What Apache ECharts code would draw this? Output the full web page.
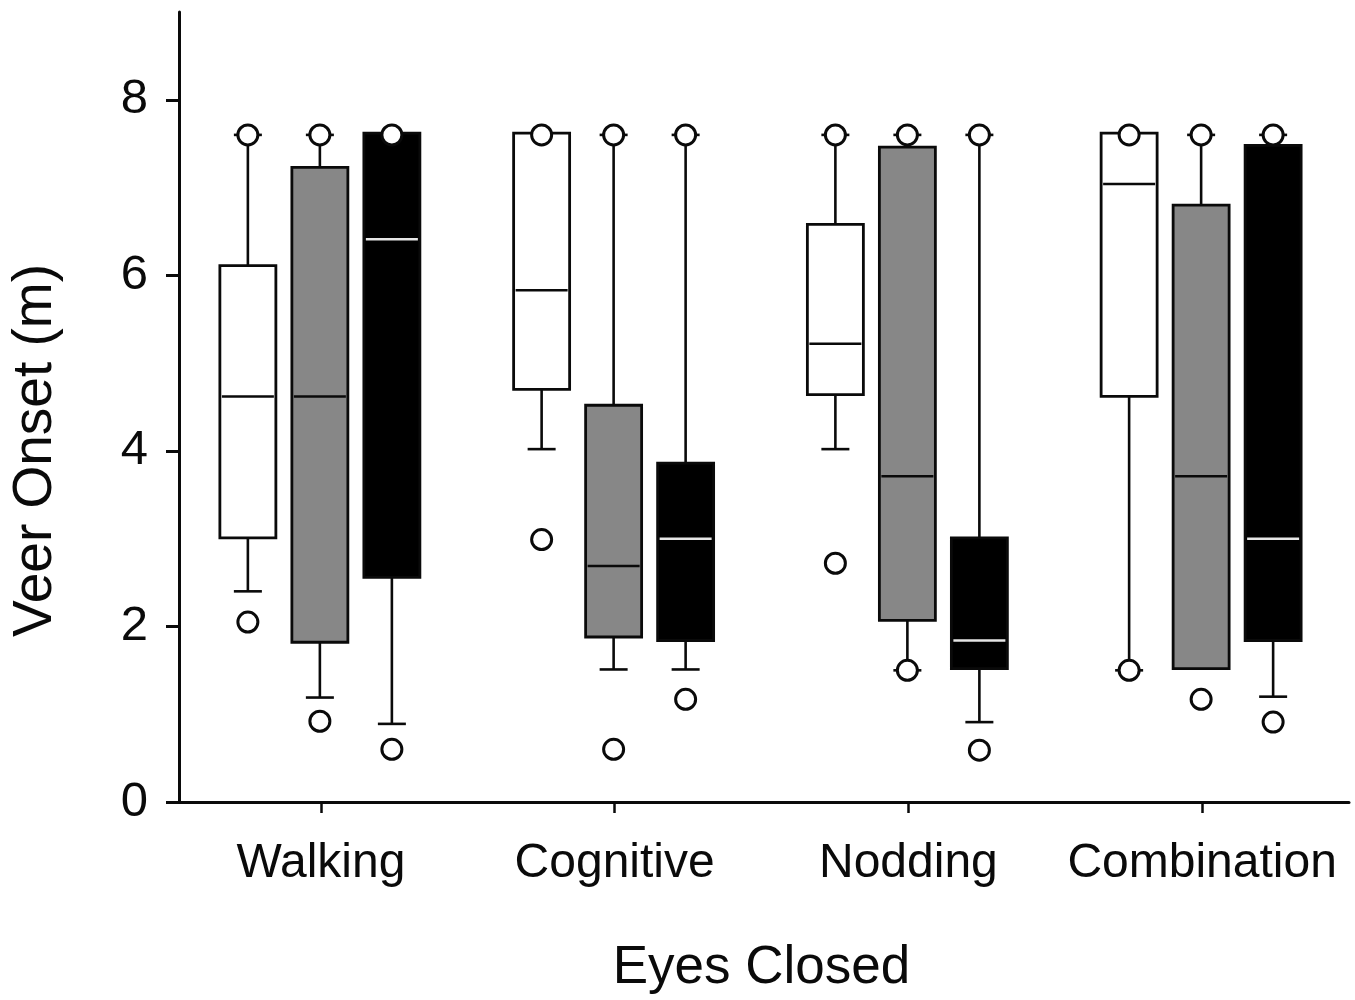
<!DOCTYPE html>
<html>
<head>
<meta charset="utf-8">
<script src="https://cdn.jsdelivr.net/npm/echarts@6/dist/echarts.min.js"></script>
<style>
html,body{margin:0;padding:0;background:#fff;}
#chart{width:1355px;height:1000px;}
</style>
</head>
<body>
<div id="chart"></div>
<script>
// ---- data ----
const categories = ['Walking', 'Cognitive', 'Nodding', 'Combination'];
const yTickValues = [0, 2, 4, 6, 8];

// each row: [categoryIndex, lowWhisker, Q1, median, Q3, highWhisker]
const whiteBoxes = [
  [0, 2.40, 3.01, 4.62, 6.11, 7.60],
  [1, 4.02, 4.70, 5.83, 7.62, 7.62],
  [2, 4.02, 4.64, 5.22, 6.58, 7.60],
  [3, 1.50, 4.62, 7.04, 7.62, 7.62]
];
const grayBoxes = [
  [0, 1.19, 1.82, 4.62, 7.23, 7.60],
  [1, 1.51, 1.88, 2.69, 4.52, 7.60],
  [2, 1.50, 2.07, 3.71, 7.46, 7.60],
  [3, 1.52, 1.52, 3.71, 6.80, 7.60]
];
const blackBoxes = [
  [0, 0.89, 2.56, 6.41, 7.62, 7.62],
  [1, 1.51, 1.84, 3.00, 3.86, 7.60],
  [2, 0.91, 1.52, 1.84, 3.01, 7.60],
  [3, 1.20, 1.84, 3.00, 7.48, 7.60]
];

// outliers: [categoryIndex, value]
const whiteOutliers = [
  [0, 7.6], [0, 2.05],
  [1, 7.6], [1, 2.99],
  [2, 7.6], [2, 2.72],
  [3, 7.6], [3, 1.50]
];
const grayOutliers = [
  [0, 7.6], [0, 0.92],
  [1, 7.6], [1, 0.60],
  [2, 7.6], [2, 1.50],
  [3, 7.6], [3, 1.17]
];
const blackOutliers = [
  [0, 7.6], [0, 0.60],
  [1, 7.6], [1, 1.17],
  [2, 7.6], [2, 0.59],
  [3, 7.6], [3, 0.91]
];

// ---- styling / layout constants ----
const FONT = "'Liberation Sans', Arial, Helvetica, sans-serif";
const INK = '#0a0a0a';
const BOX_W = 56;
const CAP_W = 28;
const OFFSETS = [-73, -1, 71];

function boxRenderer(offset, fill, medianColor) {
  return function (params, api) {
    const ci = api.value(0);
    const cx = api.coord([ci, 0])[0] + offset;
    const yy = function (i) { return api.coord([ci, api.value(i)])[1]; };
    const yl = yy(1), yq1 = yy(2), ym = yy(3), yq3 = yy(4), yh = yy(5);
    const hw = BOX_W / 2, cw = CAP_W / 2;
    const ls = { stroke: INK, lineWidth: 2.6 };
    const children = [];
    if (yh < yq3 - 1) {
      children.push({ type: 'line', shape: { x1: cx, y1: yq3, x2: cx, y2: yh }, style: ls });
      children.push({ type: 'line', shape: { x1: cx - cw, y1: yh, x2: cx + cw, y2: yh }, style: ls });
    }
    if (yl > yq1 + 1) {
      children.push({ type: 'line', shape: { x1: cx, y1: yq1, x2: cx, y2: yl }, style: ls });
      children.push({ type: 'line', shape: { x1: cx - cw, y1: yl, x2: cx + cw, y2: yl }, style: ls });
    }
    children.push({
      type: 'rect',
      shape: { x: cx - hw, y: yq3, width: BOX_W, height: yq1 - yq3 },
      style: { fill: fill, stroke: INK, lineWidth: 2.8 }
    });
    children.push({
      type: 'line',
      shape: { x1: cx - hw + 2, y1: ym, x2: cx + hw - 2, y2: ym },
      style: { stroke: medianColor, lineWidth: 2.5 }
    });
    return { type: 'group', children: children };
  };
}

function boxSeries(name, data, offset, fill, medianColor) {
  return {
    name: name,
    type: 'custom',
    data: data,
    encode: { x: 0, y: [1, 2, 3, 4, 5] },
    renderItem: boxRenderer(offset, fill, medianColor),
    z: 2,
    silent: true
  };
}

function outlierSeries(name, data, offset) {
  return {
    name: name,
    type: 'scatter',
    data: data,
    symbol: 'circle',
    symbolSize: 20,
    symbolOffset: [offset, 0],
    itemStyle: { color: '#ffffff', borderColor: INK, borderWidth: 3, opacity: 1 },
    z: 5,
    silent: true
  };
}

const chart = echarts.init(document.getElementById('chart'), null, { renderer: 'canvas' });

chart.setOption({
  animation: false,
  backgroundColor: '#ffffff',
  grid: { left: 172, right: 6, top: 12, bottom: 197, containLabel: false },
  xAxis: {
    type: 'category',
    data: categories,
    boundaryGap: true,
    axisLine: { show: true, lineStyle: { color: INK, width: 3 } },
    axisTick: { show: true, interval: 0, alignWithLabel: true, length: 11, lineStyle: { color: INK, width: 2.5 } },
    axisLabel: { interval: 0, color: INK, fontSize: 48, fontFamily: FONT, margin: 38 },
    splitLine: { show: false },
    name: 'Eyes Closed',
    nameLocation: 'middle',
    nameGap: 140,
    nameTextStyle: { color: INK, fontSize: 53, fontFamily: FONT }
  },
  yAxis: {
    type: 'value',
    min: 0,
    max: 9,
    offset: -5,
    axisLine: { show: true, lineStyle: { color: INK, width: 3 } },
    axisTick: { show: true, length: 13, customValues: yTickValues, lineStyle: { color: INK, width: 3 } },
    axisLabel: { color: INK, fontSize: 49, fontFamily: FONT, margin: 31, customValues: yTickValues },
    splitLine: { show: false },
    name: 'Veer Onset (m)',
    nameLocation: 'middle',
    nameGap: 116,
    nameTextStyle: { color: INK, fontSize: 55, fontFamily: FONT, padding: [0, 87, 0, 0] }
  },
  series: [
    boxSeries('White', whiteBoxes, OFFSETS[0], '#ffffff', INK),
    boxSeries('Gray', grayBoxes, OFFSETS[1], '#878787', INK),
    boxSeries('Black', blackBoxes, OFFSETS[2], '#000000', '#e6e6e6'),
    outlierSeries('White outliers', whiteOutliers, OFFSETS[0]),
    outlierSeries('Gray outliers', grayOutliers, OFFSETS[1]),
    outlierSeries('Black outliers', blackOutliers, OFFSETS[2])
  ]
});
</script>
</body>
</html>
